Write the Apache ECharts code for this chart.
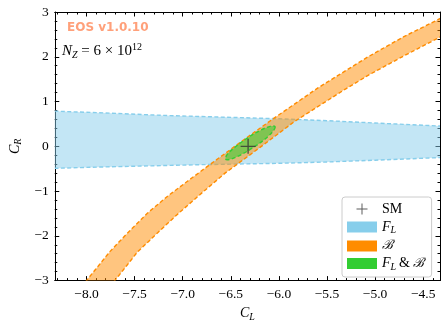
<!DOCTYPE html>
<html>
<head>
<meta charset="utf-8">
<script src="https://cdn.jsdelivr.net/npm/echarts@6/dist/echarts.min.js"></script>
<style>
html,body{margin:0;padding:0;background:#fff;}
#chart{width:441px;height:327px;}
</style>
</head>
<body>
<div id="chart"></div>
<script>
// ---- axis ranges and tick labels ----
const xRange = [-8.33, -4.325];
const yRange = [-3, 3];
const xMajorTicks = [-8.0, -7.5, -7.0, -6.5, -6.0, -5.5, -5.0, -4.5];
const yMajorTicks = [-3, -2, -1, 0, 1, 2, 3];
const xMinorStep = 0.1;
const yMinorStep = 0.2;

// ---- F_L constraint band (upper / lower boundary, [C_L, C_R]) ----
const flUpper = [[-8.4, 0.79], [-7.8, 0.745], [-7.2, 0.69], [-6.8, 0.665], [-6.0, 0.615], [-5.5, 0.572], [-5.0, 0.52], [-4.3, 0.45]];
const flLower = [[-8.4, -0.495], [-7.8, -0.46], [-7.2, -0.43], [-6.8, -0.41], [-6.0, -0.38], [-5.5, -0.35], [-5.0, -0.31], [-4.3, -0.25]];

// ---- B constraint band ----
const bUpper = [[-8.05, -3.14], [-8.0, -3.0], [-7.76, -2.36], [-7.57, -1.93], [-7.37, -1.5], [-7.16, -1.12], [-6.95, -0.78], [-6.75, -0.46], [-6.4, 0.09], [-6.07, 0.6], [-5.86, 0.91], [-5.59, 1.31], [-5.08, 1.99], [-4.7, 2.45], [-4.28, 2.9]];
const bLower = [[-7.75, -3.14], [-7.706, -3.0], [-7.47, -2.36], [-7.26, -1.93], [-7.05, -1.51], [-6.8, -1.04], [-6.56, -0.6], [-6.2, -0.03], [-5.84, 0.55], [-5.6, 0.88], [-5.3, 1.29], [-5.06, 1.6], [-4.7, 2.02], [-4.28, 2.49]];

// ---- combined F_L & B region (closed contour) ----
const combined = [[-6.04, 0.44], [-6.06, 0.34], [-6.14, 0.17], [-6.265, -0.025], [-6.40, -0.195], [-6.505, -0.29], [-6.555, -0.29], [-6.54, -0.19], [-6.46, -0.025], [-6.335, 0.175], [-6.20, 0.35], [-6.09, 0.445]];

// ---- Standard Model point ----
const smPoint = [[-6.32, 0.0]];

const colors = {
  fl: '#87ceeb', flFill: 'rgba(135,206,235,0.5)',
  b: '#ff8c00', bFill: 'rgba(255,140,0,0.5)',
  g: '#32cd32', gFill: 'rgba(50,205,50,0.55)',
  sm: '#333333'
};

function range(lo, hi, step, skip) {
  const out = [];
  const n = Math.round((hi - lo) / step);
  for (let i = 0; i <= n; i++) {
    const v = +(lo + i * step).toFixed(4);
    if (!skip.some(s => Math.abs(s - v) < 1e-6)) out.push(v);
  }
  return out;
}
const xMinorTicks = range(-8.3, -4.4, xMinorStep, xMajorTicks);
const yMinorTicks = range(-2.8, 2.8, yMinorStep, yMajorTicks);

const plusPath = 'path://M4.55,0H5.45V4.55H10V5.45H5.45V10H4.55V5.45H0V4.55H4.55Z';

function clipOf(params) {
  const cs = params.coordSys;
  return { type: 'rect', shape: { x: cs.x, y: cs.y, width: cs.width, height: cs.height } };
}
function dashed(points, color) {
  return { type: 'polyline', shape: { points: points }, style: { stroke: color, fill: null, lineWidth: 1.4, lineDash: [4, 2.4] } };
}
function bandRender(upper, lower, fill, edge) {
  return function (params, api) {
    if (params.dataIndex > 0) return null;
    const up = upper.map(p => api.coord(p));
    const lo = lower.map(p => api.coord(p));
    return {
      type: 'group', clipPath: clipOf(params),
      children: [
        { type: 'polygon', shape: { points: up.concat(lo.slice().reverse()) }, style: { fill: fill } },
        dashed(up, edge), dashed(lo, edge)
      ]
    };
  };
}
function closedRender(pts, fill, edge) {
  return function (params, api) {
    if (params.dataIndex > 0) return null;
    const p = pts.map(q => api.coord(q));
    return {
      type: 'group', clipPath: clipOf(params),
      children: [
        { type: 'polygon', shape: { points: p, smooth: 0.35 }, style: { fill: fill, stroke: edge, lineWidth: 1.4, lineDash: [4, 2.4] } }
      ]
    };
  };
}

const serif = 'Liberation Serif';
const mathRich = {
  it: { fontFamily: serif, fontStyle: 'italic', fontSize: 14, color: '#000' },
  sub: { fontFamily: serif, fontStyle: 'italic', fontSize: 10, color: '#000', padding: [7, 0, 0, 0] },
  rm: { fontFamily: serif, fontSize: 14, color: '#000' },
  cal: { fontFamily: 'DejaVu Serif', fontStyle: 'italic', fontSize: 13, color: '#000' }
};

function fmtX(v) { return v.toFixed(1).replace('-', '\u2212'); }
function fmtY(v) { return String(v).replace('-', '\u2212'); }

const tickStyle = { color: '#000', width: 1 };
function xAxisDef(pos, major, showLabel) {
  const ticks = major ? xMajorTicks : xMinorTicks;
  return {
    type: 'value', position: pos, min: xRange[0], max: xRange[1], gridIndex: 0,
    axisLine: { show: major, onZero: false, lineStyle: { color: '#000', width: 1 } },
    axisTick: { show: true, inside: true, length: major ? 4.5 : 2.5, lineStyle: tickStyle, customValues: ticks },
    axisLabel: showLabel ? { show: true, customValues: xMajorTicks, formatter: fmtX, fontFamily: serif, fontSize: 13.5, color: '#000', margin: 7 } : { show: false },
    splitLine: { show: false },
    name: showLabel ? '{it|C}{sub|L}' : '',
    nameLocation: 'middle', nameGap: 22,
    nameTextStyle: { rich: mathRich }
  };
}
function yAxisDef(pos, major, showLabel) {
  const ticks = major ? yMajorTicks : yMinorTicks;
  return {
    type: 'value', position: pos, min: yRange[0], max: yRange[1], gridIndex: 0,
    axisLine: { show: major, onZero: false, lineStyle: { color: '#000', width: 1 } },
    axisTick: { show: true, inside: true, length: major ? 4.5 : 2.5, lineStyle: tickStyle, customValues: ticks },
    axisLabel: showLabel ? { show: true, customValues: yMajorTicks, formatter: fmtY, fontFamily: serif, fontSize: 13.5, color: '#000', margin: 6 } : { show: false },
    splitLine: { show: false },
    name: showLabel ? '{it|C}{sub|R}' : '',
    nameLocation: 'middle', nameGap: 30, nameRotate: 90,
    nameTextStyle: { rich: mathRich }
  };
}

const chart = echarts.init(document.getElementById('chart'), null, { renderer: 'canvas' });
chart.setOption({
  animation: false,
  backgroundColor: '#fff',
  grid: { left: 50, right: 1, top: 12, bottom: 37, containLabel: false },
  xAxis: [xAxisDef('bottom', true, true), xAxisDef('bottom', false, false), xAxisDef('top', true, false), xAxisDef('top', false, false)],
  yAxis: [yAxisDef('left', true, true), yAxisDef('left', false, false), yAxisDef('right', true, false), yAxisDef('right', false, false)],
  legend: {
    orient: 'vertical', left: 342, top: 197,
    itemWidth: 30, itemHeight: 11, itemGap: 4, itemTextGap: 10,
    padding: [5, 8, 5, 5],
    backgroundColor: 'rgba(255,255,255,0.85)', borderColor: '#cccccc', borderWidth: 1, borderRadius: 3,
    symbolKeepAspect: true,
    data: [
      { name: 'SM', icon: plusPath, itemStyle: { color: colors.sm } },
      { name: 'FL', icon: 'rect', itemStyle: { color: colors.fl } },
      { name: 'B', icon: 'rect', itemStyle: { color: colors.b } },
      { name: 'FLB', icon: 'rect', itemStyle: { color: colors.g } }
    ],
    formatter: function (name) {
      if (name === 'SM') return '{rm|SM}';
      if (name === 'FL') return '{it|F}{sub|L}';
      if (name === 'B') return '{cal|\u212C}';
      return '{it|F}{sub|L}{rm|\u2009&\u2009}{cal|\u212C}';
    },
    textStyle: { rich: mathRich }
  },
  graphic: [
    { type: 'text', left: 67, top: 22, style: { text: 'EOS v1.0.10', fontFamily: 'DejaVu Sans', fontWeight: 'bold', fontSize: 12, fill: '#ffa07a' } },
    { type: 'text', left: 62, top: 42, style: { text: '{it|N}{sub|Z}{rm| = 6 \u00d7 10}{sup|12}', rich: {
      it: { fontFamily: serif, fontStyle: 'italic', fontSize: 15, fill: '#000' },
      sub: { fontFamily: serif, fontStyle: 'italic', fontSize: 10, fill: '#000', padding: [8, 0, 0, 0] },
      rm: { fontFamily: serif, fontSize: 15, fill: '#000' },
      sup: { fontFamily: serif, fontSize: 10, fill: '#000', padding: [0, 0, 8, 0] }
    } } }
  ],
  series: [
    { type: 'custom', name: 'FL', xAxisIndex: 0, yAxisIndex: 0, data: [0], z: 2, renderItem: bandRender(flUpper, flLower, colors.flFill, colors.fl), itemStyle: { color: colors.fl } },
    { type: 'custom', name: 'B', xAxisIndex: 0, yAxisIndex: 0, data: [0], z: 3, renderItem: bandRender(bUpper, bLower, colors.bFill, colors.b), itemStyle: { color: colors.b } },
    { type: 'custom', name: 'FLB', xAxisIndex: 0, yAxisIndex: 0, data: [0], z: 4, renderItem: closedRender(combined, colors.gFill, colors.g), itemStyle: { color: colors.g } },
    { type: 'scatter', name: 'SM', xAxisIndex: 0, yAxisIndex: 0, data: smPoint, z: 5, symbol: plusPath, symbolSize: 15, itemStyle: { color: colors.sm } }
  ]
});
</script>
</body>
</html>
